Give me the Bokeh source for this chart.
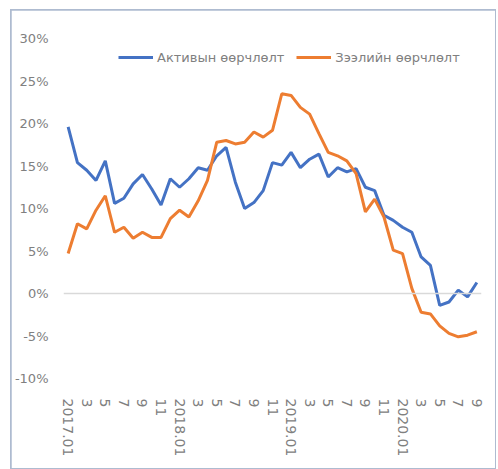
from bokeh.plotting import figure
from bokeh.models import (Range1d, FixedTicker, PrintfTickFormatter, Span, Legend,
                          LegendItem, ColumnDataSource)
from bokeh.embed import file_html
from bokeh.resources import INLINE

months = ["2017.01", "2", "3", "4", "5", "6", "7", "8", "9", "10", "11", "12",
          "2018.01", "2", "3", "4", "5", "6", "7", "8", "9", "10", "11", "12",
          "2019.01", "2", "3", "4", "5", "6", "7", "8", "9", "10", "11", "12",
          "2020.01", "2", "3", "4", "5", "6", "7", "8", "9"]

asset_change = [19.6, 15.4, 14.5, 13.3, 15.6, 10.6, 11.2, 12.9, 14.0, 12.3,
                10.4, 13.5, 12.5, 13.5, 14.8, 14.5, 16.2, 17.2, 13.1, 10.0,
                10.7, 12.1, 15.4, 15.1, 16.6, 14.8, 15.8, 16.4, 13.7, 14.8,
                14.3, 14.7, 12.5, 12.1, 9.2, 8.6, 7.8, 7.2, 4.3, 3.3,
                -1.4, -1.0, 0.4, -0.4, 1.3]

loan_change = [4.7, 8.2, 7.6, 9.8, 11.5, 7.2, 7.8, 6.5, 7.2, 6.6,
               6.6, 8.8, 9.8, 9.0, 10.9, 13.3, 17.8, 18.0, 17.6, 17.8,
               19.0, 18.4, 19.2, 23.5, 23.3, 21.9, 21.1, 18.8, 16.6, 16.2,
               15.6, 14.1, 9.6, 11.1, 9.0, 5.1, 4.7, 0.6, -2.2, -2.4,
               -3.8, -4.7, -5.1, -4.9, -4.5]

series_names = ["Активын өөрчлөлт", "Зээлийн өөрчлөлт"]
y_ticks = [-10, -5, 0, 5, 10, 15, 20, 25, 30]

idx = list(range(len(months)))
src = ColumnDataSource(dict(x=idx, a=asset_change, l=loan_change))

FONT = "DejaVu Sans"
TXT = "#808080"

p = figure(width=484, height=458, output_backend="svg", toolbar_location=None,
           x_range=Range1d(-0.5, len(months) - 0.5), y_range=Range1d(-10, 30),
           min_border_left=51, min_border_right=14, min_border_top=28,
           min_border_bottom=90)
p.margin = (10, 0, 0, 11)
p.styles = {"outline": "2px solid #aebbd0", "outline-offset": "-1px"}
p.background_fill_color = "white"
p.border_fill_color = "white"
p.outline_line_color = None
p.xgrid.visible = False
p.ygrid.visible = False

# axes
p.yaxis.ticker = FixedTicker(ticks=y_ticks)
p.yaxis.formatter = PrintfTickFormatter(format="%d%%")
p.yaxis.axis_line_color = None
p.yaxis.major_tick_line_color = None
p.yaxis.minor_tick_line_color = None
p.yaxis.major_label_standoff = 9
p.yaxis.major_label_text_font = FONT
p.yaxis.major_label_text_font_size = "13px"
p.yaxis.major_label_text_color = TXT

tick_pos = list(range(0, len(months), 2))
p.xaxis.ticker = FixedTicker(ticks=tick_pos)
p.xaxis.major_label_overrides = {i: months[i] for i in tick_pos}
p.xaxis.major_label_orientation = "vertical"
p.xaxis.axis_line_color = None
p.xaxis.major_tick_line_color = None
p.xaxis.minor_tick_line_color = None
p.xaxis.major_label_standoff = 14
p.xaxis.major_label_text_font = FONT
p.xaxis.major_label_text_font_size = "14px"
p.xaxis.major_label_text_color = TXT

# zero line
p.add_layout(Span(location=0, dimension="width", line_color="#d9d9d9", line_width=1.5))

r1 = p.line("x", "a", source=src, line_color="#4472C4", line_width=3)
r2 = p.line("x", "l", source=src, line_color="#ED7D31", line_width=3)

legend = Legend(items=[LegendItem(label=series_names[0], renderers=[r1]),
                       LegendItem(label=series_names[1], renderers=[r2])],
                orientation="horizontal", location=(55, 313),
                padding=0, margin=0, spacing=12, label_standoff=4,
                glyph_width=35, glyph_height=16, label_height=16,
                label_text_font=FONT, label_text_font_size="13px",
                label_text_color=TXT, border_line_color=None,
                background_fill_alpha=0)
p.add_layout(legend)

open("out.html", "w").write(file_html(p, INLINE))
